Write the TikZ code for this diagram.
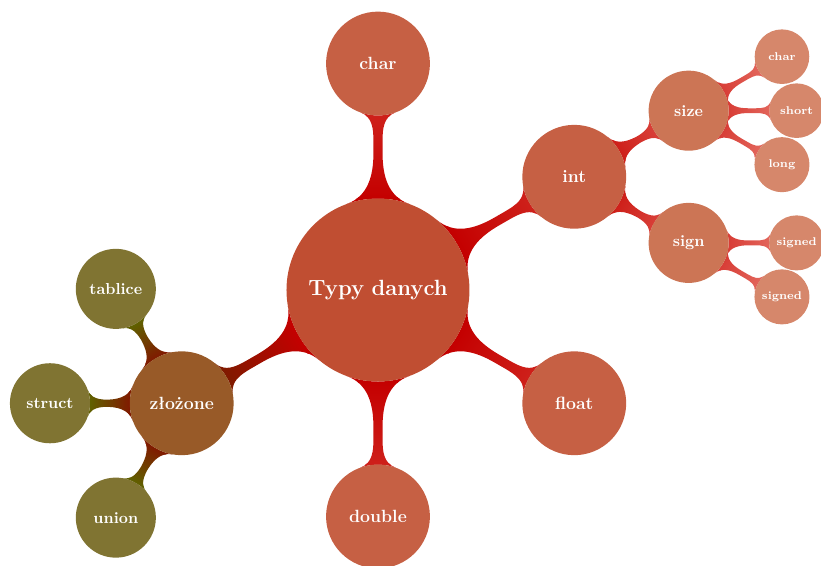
\documentclass[tikz,border=0pt]{standalone}
\usetikzlibrary{mindmap}
\usetikzlibrary{backgrounds}

\definecolor{rootfill}{RGB}{192,78,50}
\definecolor{onefill}{RGB}{198,96,68}
\definecolor{twofill}{RGB}{204,117,85}
\definecolor{threefill}{RGB}{214,135,107}
\definecolor{mixfill}{RGB}{152,90,40}
\definecolor{olivefill}{RGB}{128,116,50}
\definecolor{rootbar}{RGB}{196,0,0}
\definecolor{onebar}{RGB}{206,32,26}
\definecolor{twobar}{RGB}{216,62,55}
\definecolor{threebar}{RGB}{226,100,90}
\definecolor{mixbar}{RGB}{128,26,0}
\definecolor{olivebar}{RGB}{96,96,0}

\begin{document}
\begin{tikzpicture}
			[mindmap, text=white,
			 rootnode/.style={concept, fill=rootfill, draw=none, minimum size=4cm, text width=3.8cm, font=\fontsize{13.7}{16}\selectfont\bfseries},
			 typenode/.style={concept, fill=onefill, draw=none, minimum size=2.27cm, text width=2cm, font=\fontsize{11}{13}\selectfont\bfseries},
			 sizenode/.style={concept, fill=twofill, draw=none, minimum size=1.75cm, text width=1.6cm, font=\fontsize{9.9}{12}\selectfont\bfseries},
			 leafnode/.style={concept, fill=threefill, draw=none, minimum size=1.16cm, text width=1.1cm, font=\fontsize{7}{8}\selectfont\bfseries}]
			
			\useasboundingbox (-8.262,-6.011) rectangle (9.683,6.339);
			
			\node[rootnode] (root) at (0,0) {Typy danych};
			
			\node[typenode] (char) at (0,4.95) {char};
			\node[typenode] (int) at (4.29,2.475) {int};
			\node[typenode] (float) at (4.29,-2.475) {float};
			\node[typenode] (double) at (0,-4.95) {double};
			\node[typenode, fill=mixfill] (mix) at (-4.29,-2.475) {złożone};
			
			\node[sizenode] (size) at (6.79,3.92) {size};
			\node[sizenode] (sign) at (6.79,1.03) {sign};
			
			\node[leafnode] (schar) at (8.83,5.10) {char};
			\node[leafnode] (short) at (9.15,3.92) {short};
			\node[leafnode] (long) at (8.83,2.74) {long};
			\node[leafnode] (signed) at (9.15,1.03) {signed};
			\node[leafnode] (unsigned) at (8.83,-0.15) {signed};
			
			\node[sizenode, fill=olivefill] (arr) at (-5.73,0.025) {tablice};
			\node[sizenode, fill=olivefill] (struct) at (-7.17,-2.475) {struct};
			\node[sizenode, fill=olivefill] (union) at (-5.73,-4.975) {union};
			
			\begin{pgfonlayer}{background}
			\path (root) to[circle connection bar switch color=from (rootbar) to (onebar)] (char);
			\path (root) to[circle connection bar switch color=from (rootbar) to (onebar)] (int);
			\path (root) to[circle connection bar switch color=from (rootbar) to (onebar)] (float);
			\path (root) to[circle connection bar switch color=from (rootbar) to (onebar)] (double);
			\path (root) to[circle connection bar switch color=from (rootbar) to (mixbar)] (mix);
			
			\path (int) to[circle connection bar switch color=from (onebar) to (twobar)] (size);
			\path (int) to[circle connection bar switch color=from (onebar) to (twobar)] (sign);
			
			\path (size) to[circle connection bar switch color=from (twobar) to (threebar)] (schar);
			\path (size) to[circle connection bar switch color=from (twobar) to (threebar)] (short);
			\path (size) to[circle connection bar switch color=from (twobar) to (threebar)] (long);
			\path (sign) to[circle connection bar switch color=from (twobar) to (threebar)] (signed);
			\path (sign) to[circle connection bar switch color=from (twobar) to (threebar)] (unsigned);
			
			\path (mix) to[circle connection bar switch color=from (mixbar) to (olivebar)] (arr);
			\path (mix) to[circle connection bar switch color=from (mixbar) to (olivebar)] (struct);
			\path (mix) to[circle connection bar switch color=from (mixbar) to (olivebar)] (union);
			\end{pgfonlayer}
		\end{tikzpicture}
\end{document}
